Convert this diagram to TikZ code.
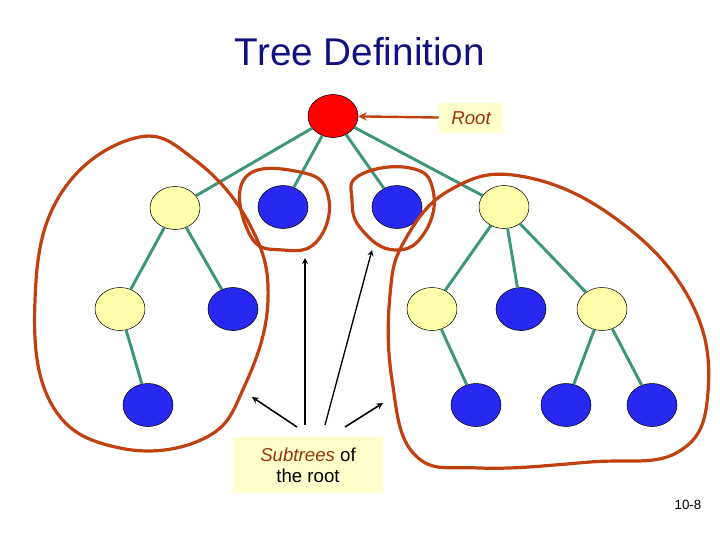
\documentclass[tikz,border=0pt]{standalone}
\usepackage{fontspec}
\setmainfont{Liberation Sans}
\usetikzlibrary{shapes.geometric}
\definecolor{edgegreen}{RGB}{60,150,120}
\definecolor{blobred}{RGB}{192,64,16}
\definecolor{nodeblue}{RGB}{40,40,240}
\definecolor{nodeyellow}{RGB}{255,255,170}
\definecolor{labelfill}{RGB}{255,255,204}
\definecolor{titleblue}{RGB}{16,16,128}
\tikzset{
  vert/.style={ellipse,draw=black,minimum width=37.5pt,minimum height=32.25pt,inner sep=0pt},
  yel/.style={vert,fill=nodeyellow},
  blu/.style={vert,fill=nodeblue},
  tedge/.style={edgegreen,line width=2.2pt},
  blob/.style={blobred,line width=2.4pt},
  lab/.style={fill=labelfill,font=\fontsize{14}{16}\selectfont}
}
\begin{document}
\begin{tikzpicture}[x=0.75pt,y=-0.75pt]
  \useasboundingbox (0,0) rectangle (720,540);
  \node[titleblue,font=\fontsize{29}{32}\selectfont] (title) at (360,52) {Tree Definition};
  % the tree
  \node[vert,fill=red] (r) at (333,116) {};
  \node[yel] (a) at (175,208) {};
  \node[blu] (b) at (283,207) {};
  \node[blu] (c) at (397,207) {};
  \node[yel] (d) at (504,207) {};
  \node[yel] (a1) at (120,309) {};
  \node[blu] (a2) at (233,309) {};
  \node[blu] (a11) at (148,405) {};
  \node[yel] (d1) at (432,309) {};
  \node[blu] (d2) at (521,309) {};
  \node[yel] (d3) at (602,309) {};
  \node[blu] (d11) at (476,405) {};
  \node[blu] (d31) at (566,405) {};
  \node[blu] (d32) at (652,405) {};
  \foreach \u/\v in {r/a,r/b,r/c,r/d,a/a1,a/a2,a1/a11,d/d1,d/d2,d/d3,d1/d11,d3/d31,d3/d32}
    \draw[tedge] (\u) -- (\v);
  % subtree outlines
  \draw[blob] plot[smooth cycle,tension=0.7] coordinates {(135,138) (195,160) (250,225) (268,300) (245,385) (205,438) (120,448) (52,405) (35,300) (60,195)};
  \draw[blob] plot[smooth cycle,tension=0.8] coordinates {(245,178) (300,172) (328,195) (318,240) (283,250) (250,235)};
  \draw[blob] plot[smooth cycle,tension=0.8] coordinates {(360,175) (410,168) (433,190) (425,232) (395,250) (362,230) (352,200)};
  \draw[blob] plot[smooth cycle,tension=0.7] coordinates {(405,240) (450,190) (520,176) (615,218) (690,300) (708,392) (678,452) (590,462) (480,468) (415,455) (392,380) (390,295)};
  % labels
  \node[lab,text=blobred!80!black,font=\fontsize{14}{16}\selectfont\itshape,minimum width=48pt,minimum height=22.5pt] (rootlab) at (471,118) {Root};
  \draw[blobred,line width=1.8pt,-stealth] (rootlab) -- (r);
  \node[lab,minimum width=112.5pt,minimum height=42pt,align=center] (sublab) at (308,465) {\textcolor{blobred!80!black}{\textit{Subtrees}} of\\the root};
  \coordinate (s1) at (297,427);
  \coordinate (s2) at (305,425);
  \coordinate (s3) at (325,425);
  \coordinate (s4) at (345,427);
  \draw[line width=1.2pt,-stealth] (s1) -- (252,397);
  \draw[line width=1pt,-stealth] (s2) -- (305,258);
  \draw[line width=1pt,-stealth] (s3) -- (372,250);
  \draw[line width=1.2pt,-stealth] (s4) -- (383,403);
  \node[font=\fontsize{10}{12}\selectfont] (page) at (688,505) {10-8};
\end{tikzpicture}
\end{document}
